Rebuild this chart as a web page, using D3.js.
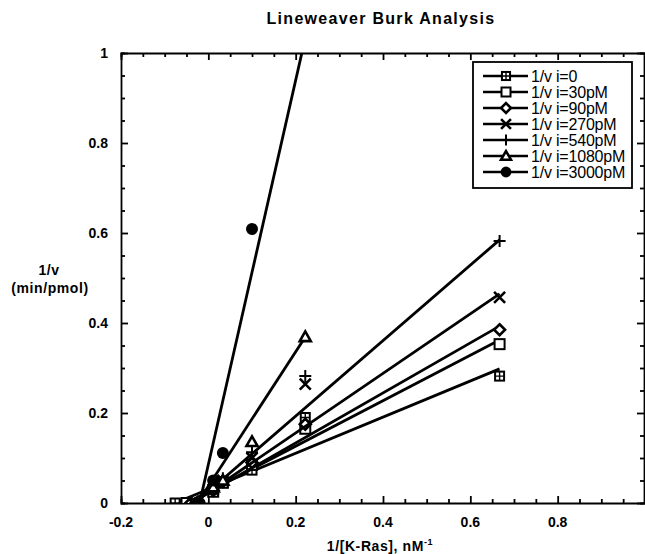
<!DOCTYPE html>
<html><head><meta charset="utf-8">
<script src="https://cdn.jsdelivr.net/npm/d3@7"></script>
<style>
body{margin:0;background:#fff;}
svg text{font-family:"Liberation Sans",Arial,sans-serif;fill:#000;}
</style></head>
<body><svg id="chart" width="645" height="554"></svg>
<script>
// ---- data ----
const seriesNames = ["1/v i=0","1/v i=30pM","1/v i=90pM","1/v i=270pM","1/v i=540pM","1/v i=1080pM","1/v i=3000pM"];
const markerTypes = ["sqcross","square","diamond","x","plus","triangle","circle"];
const kRasInv = [0.0111, 0.0333, 0.1, 0.222, 0.667];
const xIntercepts = [-0.076, -0.05, -0.04, -0.035, -0.03, -0.025, -0.02];
const v_i0    = [0.030, 0.045, 0.073, 0.190, 0.282];
const v_i30   = [0.025, 0.045, 0.085, 0.165, 0.353];
const v_i90   = [0.028, 0.048, 0.090, 0.175, 0.385];
const v_i270  = [0.030, 0.050, 0.100, 0.264, 0.457];
const v_i540  = [0.030, 0.055, 0.113, 0.282, 0.582];
const v_i1080 = [0.035, 0.050, 0.136, 0.369, null];
const v_i3000 = [0.050, 0.111, 0.609, 1.300, null];
const seriesValues = [v_i0, v_i30, v_i90, v_i270, v_i540, v_i1080, v_i3000];
const fitSlopes     = [0.401, 0.505, 0.556, 0.662, 0.839, 1.494, 4.27];
const fitIntercepts = [0.0305, 0.0252, 0.0222, 0.0232, 0.0252, 0.0374, 0.0855];
const xTickValues = [-0.2, 0, 0.2, 0.4, 0.6, 0.8];
const xTickLabels = ["-0.2","0","0.2","0.4","0.6","0.8"];
const yTickValues = [0, 0.2, 0.4, 0.6, 0.8, 1];
const yTickLabels = ["0","0.2","0.4","0.6","0.8","1"];

// ---- layout ----
const L = 121, R = 645, T = 53, B = 503;
const svg = d3.select("#chart");
const x = d3.scaleLinear().domain([-0.2, 1.0]).range([L, R]);
const y = d3.scaleLinear().domain([0, 1]).range([B, T]);

svg.append("defs").append("clipPath").attr("id","plotclip")
  .append("rect").attr("x", L).attr("y", T).attr("width", R - L).attr("height", B - T);

// title
svg.append("text").attr("x", 381).attr("y", 24).attr("text-anchor","middle")
  .style("font-size","16px").style("font-weight","bold").style("letter-spacing","1.3px")
  .text("Lineweaver Burk Analysis");

// axes with inward ticks
const minorX = d3.range(-0.2, 1.0001, 0.05);
const minorY = d3.range(0, 1.0001, 0.05);
function isMajor(v){ return Math.abs(Math.round(v*5) - v*5) < 1e-6; }

const axB = svg.append("g").attr("transform",`translate(0,${B})`)
  .call(d3.axisBottom(x).tickValues(minorX).tickSize(-4).tickFormat(""));
const axT = svg.append("g").attr("transform",`translate(0,${T})`)
  .call(d3.axisTop(x).tickValues(minorX).tickSize(-4).tickFormat(""));
const axL = svg.append("g").attr("transform",`translate(${L},0)`)
  .call(d3.axisLeft(y).tickValues(minorY).tickSize(-4).tickFormat(""));
const axR = svg.append("g").attr("transform",`translate(${R-1},0)`)
  .call(d3.axisRight(y).tickValues(minorY).tickSize(-4).tickFormat(""));
[axB, axT].forEach(a => a.selectAll(".tick line").each(function(d){
  if (isMajor(d)) d3.select(this).attr("y2", a === axB ? -7 : 7);
}));
[axL, axR].forEach(a => a.selectAll(".tick line").each(function(d){
  if (isMajor(d)) d3.select(this).attr("x2", a === axL ? 7 : -7);
}));
[axB, axT, axL, axR].forEach(a => {
  a.select(".domain").attr("stroke","#000").attr("stroke-width",1.8);
  a.selectAll(".tick line").attr("stroke","#000").attr("stroke-width",1.8);
});

// tick labels
svg.append("g").selectAll("text").data(xTickValues).join("text")
  .attr("x", d => x(d)).attr("y", 527).attr("text-anchor","middle")
  .style("font-size","14px").style("font-weight","bold")
  .text((d,i) => xTickLabels[i]);
svg.append("g").selectAll("text").data(yTickValues).join("text")
  .attr("x", 108).attr("y", d => y(d) + 5).attr("text-anchor","end")
  .style("font-size","14px").style("font-weight","bold")
  .text((d,i) => yTickLabels[i]);

// axis titles
svg.append("text").attr("x", 49).attr("y", 275).attr("text-anchor","middle")
  .style("font-size","14px").style("font-weight","bold").style("letter-spacing","0.5px").text("1/v");
svg.append("text").attr("x", 50).attr("y", 293).attr("text-anchor","middle")
  .style("font-size","14px").style("font-weight","bold").style("letter-spacing","0.6px").text("(min/pmol)");
const xt = svg.append("text").attr("x", 380).attr("y", 551).attr("text-anchor","middle")
  .style("font-size","14px").style("font-weight","bold").style("letter-spacing","0.6px");
xt.append("tspan").text("1/[K-Ras],  nM");
xt.append("tspan").attr("dy",-6).style("font-size","9px").text("-1");

// markers
function drawMarker(g, type, cx, cy, s){
  s = s || 1;
  const sw = 2;
  if (type === "sqcross"){
    const h = 4.5*s;
    g.append("rect").attr("x",cx-h).attr("y",cy-h).attr("width",2*h).attr("height",2*h)
      .attr("fill","#fff").attr("stroke","#000").attr("stroke-width",sw);
    g.append("path").attr("d",`M${cx-h},${cy}H${cx+h}M${cx},${cy-h}V${cy+h}`)
      .attr("stroke","#000").attr("stroke-width",1.4);
  } else if (type === "square"){
    const h = 5*s;
    g.append("rect").attr("x",cx-h).attr("y",cy-h).attr("width",2*h).attr("height",2*h)
      .attr("fill","#fff").attr("stroke","#000").attr("stroke-width",sw);
  } else if (type === "diamond"){
    const h = 5.5*s;
    g.append("path").attr("d",`M${cx},${cy-h}L${cx+h},${cy}L${cx},${cy+h}L${cx-h},${cy}Z`)
      .attr("fill","#fff").attr("stroke","#000").attr("stroke-width",2.6);
  } else if (type === "x"){
    const h = 5.5*s;
    g.append("path").attr("d",`M${cx-h},${cy-h}L${cx+h},${cy+h}M${cx-h},${cy+h}L${cx+h},${cy-h}`)
      .attr("stroke","#000").attr("stroke-width",2.6);
  } else if (type === "plus"){
    const h = 6*s;
    g.append("path").attr("d",`M${cx-h},${cy}H${cx+h}M${cx},${cy-h}V${cy+h}`)
      .attr("stroke","#000").attr("stroke-width",2);
  } else if (type === "triangle"){
    const h = 5.5*s;
    g.append("path").attr("d",`M${cx},${cy-h}L${cx+h},${cy+h*0.75}L${cx-h},${cy+h*0.75}Z`)
      .attr("fill","#fff").attr("stroke","#000").attr("stroke-width",2.6);
  } else if (type === "circle"){
    g.append("circle").attr("cx",cx).attr("cy",cy).attr("r",6*s).attr("fill","#000");
  }
}

const plot = svg.append("g").attr("clip-path","url(#plotclip)");
seriesNames.forEach((name, i) => {
  const vals = seriesValues[i];
  const pts = [[xIntercepts[i], 0]].concat(
    kRasInv.map((k, j) => [k, vals[j]]).filter(p => p[1] !== null));
  const xmax = d3.max(pts, p => p[0]);
  const x0 = xIntercepts[i];
  plot.append("line")
    .attr("x1", x(x0)).attr("y1", y(fitSlopes[i]*x0 + fitIntercepts[i]))
    .attr("x2", x(xmax)).attr("y2", y(fitSlopes[i]*xmax + fitIntercepts[i]))
    .attr("stroke","#000").attr("stroke-width",2.8);
  const mg = plot.append("g");
  pts.forEach(p => drawMarker(mg, markerTypes[i], x(p[0]), y(p[1]), 1));
});

// legend
const lg = svg.append("g");
lg.append("rect").attr("x",473).attr("y",62).attr("width",159).attr("height",126)
  .attr("fill","#fff").attr("stroke","#000").attr("stroke-width",1.8);
seriesNames.forEach((name, i) => {
  const yy = 76 + i*16;
  lg.append("line").attr("x1",483).attr("x2",528).attr("y1",yy).attr("y2",yy)
    .attr("stroke","#000").attr("stroke-width",2.4);
  drawMarker(lg, markerTypes[i], 506, yy, 0.9);
  lg.append("text").attr("x",531).attr("y",yy+5.5).style("font-size","16px")
    .style("letter-spacing","-0.2px").text(name);
});
</script></body></html>
